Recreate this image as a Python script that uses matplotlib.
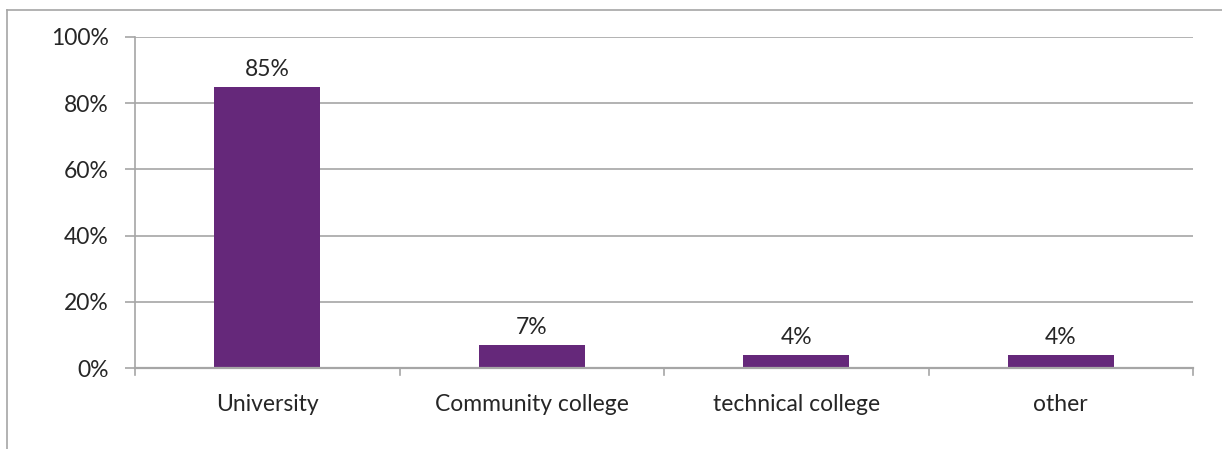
import matplotlib.pyplot as plt
from matplotlib.lines import Line2D

categories = ['University', 'Community college', 'technical college', 'other']
values = [85, 7, 4, 4]

plt.rcParams['font.family'] = ['Lato', 'DejaVu Sans']

fig = plt.figure(figsize=(12.22, 4.49), dpi=100)
ax = fig.add_axes([0.1105, 0.1804, 0.8658, 0.7372])

grid_color = '#a6a6a6'
bar_color = '#65287a'
text_color = '#262626'
fs = 16.5

x = list(range(len(categories)))
bars = ax.bar(x, values, width=0.4, color=bar_color, zorder=3)
for b, v in zip(bars, values):
    ax.text(b.get_x() + b.get_width() / 2, v + 2.0, '%d%%' % v,
            ha='center', va='bottom', fontsize=fs, color=text_color)

ax.set_xlim(-0.5, len(categories) - 0.5)
ax.set_ylim(0, 100)
ax.set_yticks(range(0, 101, 20))
ax.set_yticklabels(['%d%%' % t for t in range(0, 101, 20)], fontsize=fs, color=text_color)
ax.set_xticks(x)
ax.set_xticklabels(categories, fontsize=fs, color=text_color)
ax.tick_params(axis='x', length=0, pad=19)
ax.tick_params(axis='y', length=7, color=grid_color, width=1.2, pad=12)

# category boundary ticks below the axis
for bx in [i - 0.5 for i in range(len(categories) + 1)]:
    ax.plot([bx, bx], [0, -2.2], color=grid_color, lw=1.2, clip_on=False, zorder=2)

ax.yaxis.grid(True, color=grid_color, lw=1.2, zorder=0)
for side in ['top', 'right']:
    ax.spines[side].set_visible(False)
ax.spines['left'].set_color(grid_color)
ax.spines['bottom'].set_color(grid_color)
ax.spines['left'].set_linewidth(1.2)
ax.spines['bottom'].set_linewidth(1.6)
ax.spines['bottom'].set_zorder(4)

# outer frame around the chart area
left, top = 7 / 1222, 1 - 10 / 449
fig.add_artist(Line2D([left, left], [0, top], transform=fig.transFigure, color=grid_color, lw=1.2))
fig.add_artist(Line2D([left, 1], [top, top], transform=fig.transFigure, color=grid_color, lw=1.2))

fig.savefig('out.png', dpi=100)
